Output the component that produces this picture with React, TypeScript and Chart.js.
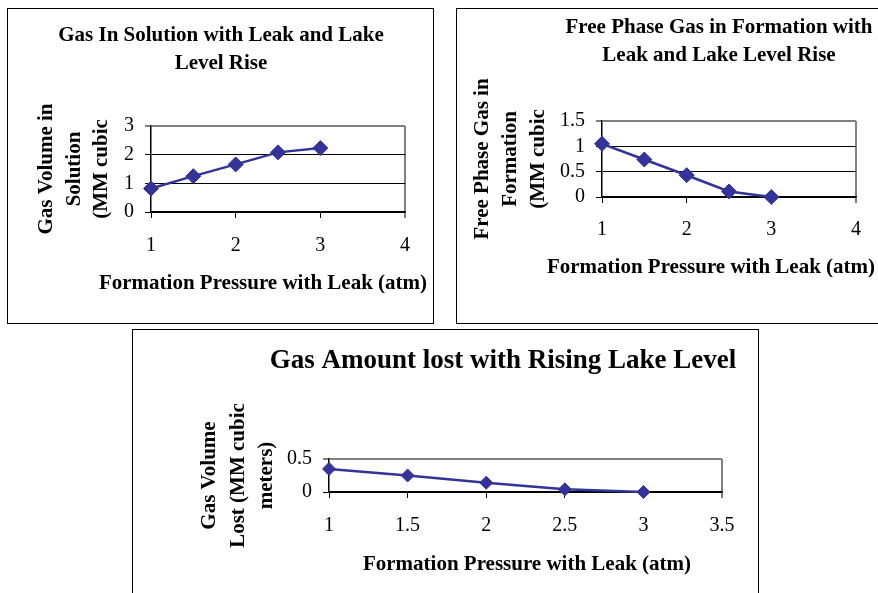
import React, { useEffect, useRef } from 'react';
import { Chart, registerables } from 'chart.js';

Chart.register(...registerables);
Chart.defaults.font.family = '"Liberation Serif", "Times New Roman", serif';

// ---------- data ----------
const pressureAtm = [1, 1.5, 2, 2.5, 3];
const gasInSolution = [0.82, 1.25, 1.66, 2.08, 2.23];
const freePhaseGas = [1.05, 0.74, 0.43, 0.11, 0];
const gasLost = [0.35, 0.25, 0.14, 0.04, 0];

const xAxisTitle = 'Formation Pressure with Leak (atm)';
const title1 = ['Gas In Solution with Leak and Lake', 'Level Rise'];
const yTitle1 = ['Gas Volume in', 'Solution', '(MM cubic'];
const title2 = ['Free Phase Gas in Formation with', 'Leak and Lake Level Rise'];
const yTitle2 = ['Free Phase Gas in', 'Formation', '(MM cubic'];
const title3 = ['Gas Amount lost with Rising Lake Level'];
const yTitle3 = ['Gas Volume', 'Lost (MM cubic', 'meters)'];

const xRange1 = { min: 1, max: 4, step: 1 };
const yRange1 = { min: 0, max: 3, step: 1 };
const xRange2 = { min: 1, max: 4, step: 1 };
const yRange2 = { min: 0, max: 1.5, step: 0.5 };
const xRange3 = { min: 1, max: 3.5, step: 0.5 };
const yRange3 = { min: 0, max: 0.5, step: 0.5 };

const SERIES = '#333399';

type TextItem = { lines: string[]; x: number; y: number; lh: number; size: number; rotate?: boolean };

function makeTextPlugin(items: TextItem[], ox: number, oy: number) {
  return {
    id: 'panelText',
    afterDraw(chart: any) {
      const ctx = chart.ctx;
      for (const it of items) {
        ctx.save();
        ctx.font = `bold ${it.size}px "Liberation Serif", "Times New Roman", serif`;
        ctx.fillStyle = '#000';
        ctx.textAlign = 'center';
        ctx.textBaseline = 'middle';
        ctx.translate(it.x - ox, it.y - oy);
        if (it.rotate) ctx.rotate(-Math.PI / 2);
        const n = it.lines.length;
        it.lines.forEach((ln, i) => ctx.fillText(ln, 0, (i - (n - 1) / 2) * it.lh));
        ctx.restore();
      }
    },
  };
}

type Spec = {
  box: { left: number; top: number; width: number; height: number };
  canvas: { left: number; top: number; width: number; height: number };
  area: { left: number; top: number; right: number; bottom: number };
  values: number[];
  xr: { min: number; max: number; step: number };
  yr: { min: number; max: number; step: number };
  xPad: number;
  yPad: number;
  radius: number;
  texts: TextItem[];
};

const specs: Spec[] = [
  {
    box: { left: 7, top: 8, width: 427, height: 316 },
    canvas: { left: 8, top: 9, width: 425, height: 314 },
    area: { left: 151, top: 126, right: 405, bottom: 212 },
    values: gasInSolution,
    xr: xRange1,
    yr: yRange1,
    xPad: 16,
    yPad: 11,
    radius: 7.5,
    texts: [
      { lines: title1, x: 221, y: 49.5, lh: 28, size: 21 },
      { lines: yTitle1, x: 74.5, y: 169, lh: 27.5, size: 21, rotate: true },
      { lines: [xAxisTitle], x: 263, y: 284, lh: 28, size: 21 },
    ],
  },
  {
    box: { left: 456, top: 8, width: 440, height: 316 },
    canvas: { left: 457, top: 9, width: 421, height: 314 },
    area: { left: 602, top: 121, right: 856, bottom: 197 },
    values: freePhaseGas,
    xr: xRange2,
    yr: yRange2,
    xPad: 15,
    yPad: 11,
    radius: 7.5,
    texts: [
      { lines: title2, x: 719, y: 42, lh: 28, size: 21 },
      { lines: yTitle2, x: 510.5, y: 159, lh: 28, size: 21, rotate: true },
      { lines: [xAxisTitle], x: 711, y: 268, lh: 28, size: 21 },
    ],
  },
  {
    box: { left: 132, top: 329, width: 627, height: 300 },
    canvas: { left: 133, top: 330, width: 624, height: 263 },
    area: { left: 329, top: 459, right: 722, bottom: 492 },
    values: gasLost,
    xr: xRange3,
    yr: yRange3,
    xPad: 16,
    yPad: 11,
    radius: 6.5,
    texts: [
      { lines: title3, x: 503, y: 361.5, lh: 32, size: 27 },
      { lines: yTitle3, x: 238.5, y: 475.5, lh: 28.5, size: 21, rotate: true },
      { lines: [xAxisTitle], x: 527, y: 565, lh: 28, size: 21 },
    ],
  },
];

function ChartPanel({ spec }: { spec: Spec }) {
  const ref = useRef<HTMLCanvasElement>(null);
  useEffect(() => {
    const c = spec.canvas;
    const a = spec.area;
    const yW = a.left - c.left;
    const pt = a.top - c.top;
    const pr = c.left + c.width - a.right;
    const xH = c.top + c.height - a.bottom;
    const xr = spec.xr;
    const yr = spec.yr;
    const chart = new Chart(ref.current as HTMLCanvasElement, {
      type: 'scatter',
      data: {
        datasets: [
          {
            data: pressureAtm.map((x, i) => ({ x, y: spec.values[i] })),
            showLine: true,
            tension: 0,
            borderColor: SERIES,
            backgroundColor: SERIES,
            borderWidth: 2.5,
            pointStyle: 'rectRot',
            pointRadius: spec.radius,
            pointHoverRadius: spec.radius,
            pointBorderWidth: 1,
            pointBackgroundColor: SERIES,
            pointBorderColor: SERIES,
            clip: false,
          } as any,
        ],
      },
      options: {
        animation: false,
        responsive: false,
        events: [],
        layout: { padding: { left: 0, top: pt, right: pr, bottom: 0 } },
        plugins: {
          legend: { display: false },
          tooltip: { enabled: false },
          title: { display: false },
        },
        scales: {
          x: {
            type: 'linear',
            min: xr.min,
            max: xr.max,
            afterFit: (s: any) => {
              s.height = xH;
            },
            ticks: {
              stepSize: xr.step,
              padding: spec.xPad,
              color: '#000',
              font: { size: 20 },
              maxRotation: 0,
              autoSkip: false,
              callback: (v: any) => String(v),
            },
            grid: {
              drawOnChartArea: true,
              color: (ctx: any) => (ctx.tick && ctx.tick.value === xr.max ? '#808080' : 'rgba(0,0,0,0)'),
              lineWidth: (ctx: any) => (ctx.tick && ctx.tick.value === xr.max ? 2 : 1),
              tickColor: '#000',
              tickLength: 6,
              tickWidth: 1,
            },
            border: { display: true, color: '#000', width: 1.5 },
          },
          y: {
            type: 'linear',
            min: yr.min,
            max: yr.max,
            afterFit: (s: any) => {
              s.width = yW;
            },
            ticks: {
              stepSize: yr.step,
              padding: spec.yPad,
              color: '#000',
              font: { size: 20 },
              autoSkip: false,
              callback: (v: any) => String(v),
            },
            grid: {
              drawOnChartArea: true,
              color: (ctx: any) => (ctx.tick && ctx.tick.value === yr.max ? '#808080' : '#000'),
              lineWidth: (ctx: any) => (ctx.tick && ctx.tick.value === yr.max ? 2 : 1),
              tickColor: '#000',
              tickLength: 6,
              tickWidth: 1,
            },
            border: { display: true, color: '#000', width: 1.5 },
          },
        },
      } as any,
      plugins: [makeTextPlugin(spec.texts, c.left, c.top)],
    });
    return () => chart.destroy();
  }, [spec]);

  const b = spec.box;
  const c = spec.canvas;
  return (
    <>
      <div
        style={{
          position: 'absolute',
          left: b.left,
          top: b.top,
          width: b.width,
          height: b.height,
          border: '1px solid #000',
          boxSizing: 'border-box',
          background: '#fff',
        }}
      />
      <canvas
        ref={ref}
        width={c.width}
        height={c.height}
        style={{ position: 'absolute', left: c.left, top: c.top, width: c.width, height: c.height }}
      />
    </>
  );
}

export default function App() {
  return (
    <div
      style={{
        position: 'fixed',
        left: 0,
        top: 0,
        width: 878,
        height: 593,
        overflow: 'hidden',
        background: '#fff',
      }}
    >
      {specs.map((s, i) => (
        <ChartPanel key={i} spec={s} />
      ))}
    </div>
  );
}
